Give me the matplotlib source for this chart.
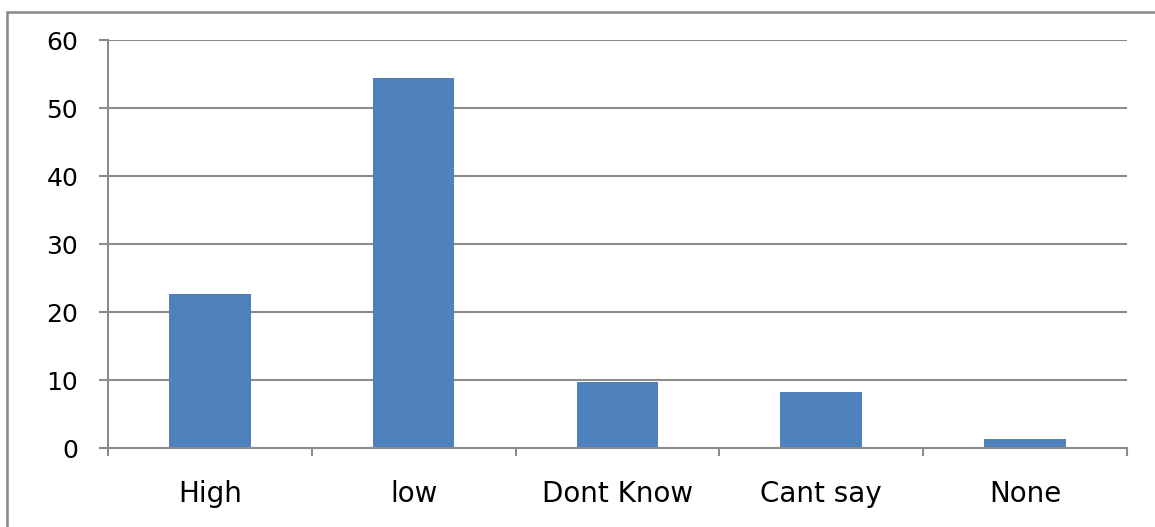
import matplotlib
matplotlib.use("Agg")
import matplotlib.pyplot as plt
from matplotlib.patches import Rectangle
from matplotlib.ticker import FixedLocator, NullFormatter

categories = ["High", "low", "Dont Know", "Cant say", "None"]
values = [22.7, 54.4, 9.8, 8.3, 1.3]
y_ticks = [0, 10, 20, 30, 40, 50, 60]

BAR = "#4F81BD"
GRID = "#8C8C8C"

plt.rcParams["font.family"] = ["DejaVu Sans"]

fig = plt.figure(figsize=(11.55, 5.27), dpi=100)
ax = fig.add_axes([0.0935, 0.1493, 0.8822, 0.7742])

x = list(range(len(categories)))
ax.bar(x, values, width=0.4, color=BAR, zorder=3)

ax.set_xlim(-0.5, len(categories) - 0.5)
ax.set_ylim(0, 60)
ax.set_yticks(y_ticks)
ax.yaxis.grid(True, color=GRID, linewidth=1.5, zorder=0)

ax.set_xticks(x)
ax.set_xticklabels(categories)
ax.xaxis.set_minor_locator(FixedLocator([i - 0.5 for i in range(len(categories) + 1)]))
ax.xaxis.set_minor_formatter(NullFormatter())
ax.tick_params(axis="x", which="major", length=0, pad=23, labelsize=20)
ax.tick_params(axis="x", which="minor", length=6, width=1.5, color=GRID, direction="out")
ax.tick_params(axis="y", length=6.5, width=1.5, color=GRID, pad=15, labelsize=18)

for side in ("top", "right"):
    ax.spines[side].set_visible(False)
for side in ("left", "bottom"):
    ax.spines[side].set_color(GRID)
    ax.spines[side].set_linewidth(1.5)
    ax.spines[side].set_zorder(4)

# outer chart-area frame (extends past the canvas on the right and bottom)
fig.patches.append(Rectangle((7 / 1155, -0.1), 1.2, 1 - 12 / 527 + 0.1,
                             transform=fig.transFigure, fill=False,
                             edgecolor="#868686", linewidth=1.8))

fig.savefig("out.png", dpi=100)
